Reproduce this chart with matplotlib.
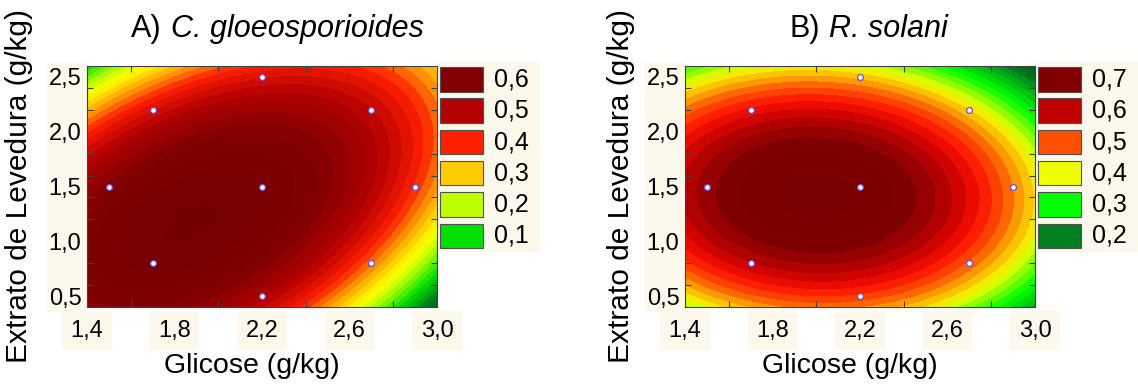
import numpy as np
import matplotlib
matplotlib.use("Agg")
import matplotlib.pyplot as plt
from matplotlib.colors import LinearSegmentedColormap, Normalize
from matplotlib.patches import Rectangle

plt.rcParams['font.family'] = ['Liberation Sans', 'DejaVu Sans']

W, H = 1138, 384
CREAM = '#fcf8ec'

# central composite design points
glicose_pts = [1.5, 1.7, 1.7, 2.2, 2.2, 2.2, 2.7, 2.7, 2.9]
extrato_pts = [1.5, 0.8, 2.2, 0.5, 1.5, 2.5, 0.8, 2.2, 1.5]

# fitted quadratic models, centred on glicose=2.2, extrato=1.5
# order: b0, b_x, b_y, b_xx, b_yy, b_xy
coef_a = [0.652, -0.1375, -0.0333, -0.333, -0.175, 0.24]
coef_b = [0.697, -0.1176, -0.0392, -0.29, -0.22, -0.02]

# legend entries
legend_vals_a = ['0,6', '0,5', '0,4', '0,3', '0,2', '0,1']
legend_cols_a = ['#800000', '#b40000', '#ff2000', '#ffcc00', '#c0ff00', '#00e000']
legend_vals_b = ['0,7', '0,6', '0,5', '0,4', '0,3', '0,2']
legend_cols_b = ['#800000', '#c00000', '#ff5000', '#f0ff00', '#00ff00', '#008020']

# colour ramps (value, colour)
ramp_a = [(-0.1, '#005a1e'), (0.0, '#007a20'), (0.1, '#00e000'), (0.2, '#c0ff00'),
          (0.25, '#ffff00'), (0.3, '#ffc800'), (0.35, '#ff8000'), (0.4, '#ff2000'),
          (0.5, '#b40000'), (0.6, '#800000'), (0.7, '#740000')]
ramp_b = [(0.0, '#004a18'), (0.15, '#007020'), (0.3, '#00ff00'), (0.4, '#f0ff00'),
          (0.45, '#ffb000'), (0.5, '#ff5000'), (0.55, '#ff1000'), (0.6, '#c00000'),
          (0.66, '#800000'), (0.75, '#740000')]

x_ticks = [1.4, 1.8, 2.2, 2.6, 3.0]
x_labels = ['1,4', '1,8', '2,2', '2,6', '3,0']
y_ticks = [0.5, 1.0, 1.5, 2.0, 2.5]
y_labels = ['0,5', '1,0', '1,5', '2,0', '2,5']


def fx(x):
    return x / W


def fy(y):
    return 1 - y / H


def make_cmap(ramp):
    lo, hi = ramp[0][0], ramp[-1][0]
    stops = [((v - lo) / (hi - lo), c) for v, c in ramp]
    cmap = LinearSegmentedColormap.from_list('rsm', stops)
    return cmap, Normalize(lo, hi)


def surface(coef, X, Y):
    u = X - 2.2
    v = Y - 1.5
    b0, b1, b2, b11, b22, b12 = coef
    return b0 + b1 * u + b2 * v + b11 * u ** 2 + b22 * v ** 2 + b12 * u * v


def panel(fig, box, coef, ramp, leg_vals, leg_cols, title_a, title_b, tsplit, ylab_x):
    x0, y0, x1, y1 = box
    ax = fig.add_axes([fx(x0), fy(y1), fx(x1 - x0), (y1 - y0) / H])

    xs = np.linspace(1.4, 3.0, 300)
    ys = np.linspace(0.4, 2.6, 300)
    X, Y = np.meshgrid(xs, ys)
    Z = surface(coef, X, Y)
    cmap, norm = make_cmap(ramp)
    levels = np.arange(-0.3, 0.9, 0.025)
    ax.contourf(X, Y, Z, levels=levels, cmap=cmap, norm=norm, extend='both')

    ax.plot(glicose_pts, extrato_pts, 'o', ms=4.2, mfc='white', mec='#6a4fd0', mew=0.9)

    ax.set_xlim(1.4, 3.0)
    ax.set_ylim(0.4, 2.6)
    ax.set_xticks(x_ticks)
    ax.set_xticklabels(x_labels)
    ax.set_yticks(y_ticks)
    ax.set_yticklabels(y_labels)
    ax.set_xticks([1.6, 1.8, 2.0, 2.2, 2.4, 2.6, 2.8], minor=True)
    ax.set_yticks([0.6, 0.8, 1.0, 1.2, 1.4, 1.6, 1.8, 2.0, 2.2, 2.4], minor=True)
    ax.tick_params(axis='x', which='major', length=0, labelsize=17, pad=9)
    ax.tick_params(axis='y', which='major', length=0, labelsize=17, pad=4)
    ax.tick_params(which='minor', direction='in', length=4, width=0.8,
                   color='#404040', top=True, right=True)
    for s in ax.spines.values():
        s.set_color('#404040')
        s.set_linewidth(0.8)
    for lbl in ax.get_xticklabels():
        lbl.set_bbox(dict(boxstyle='square,pad=0.35', fc=CREAM, ec='none'))

    # cream column behind y tick labels
    fig.add_artist(Rectangle((fx(x0 - 40), fy(312)), 40 / W, 249 / H,
                             transform=fig.transFigure, fc=CREAM, ec='none', zorder=-1))
    # cream panel behind legend
    fig.add_artist(Rectangle((fx(x1), fy(252)), 103 / W, 190 / H,
                             transform=fig.transFigure, fc=CREAM, ec='none', zorder=-1))

    # legend boxes
    for i, (lab, col) in enumerate(zip(leg_vals, leg_cols)):
        top = 67 + i * 31.3
        fig.add_artist(Rectangle((fx(x1 + 3), fy(top + 24.5)), 42.5 / W, 24.5 / H,
                                 transform=fig.transFigure, fc=col, ec='#505050', lw=0.8))
        fig.text(fx(x1 + 57), fy(top + 12.5), lab, fontsize=18, va='center', ha='left')

    # titles and axis labels
    fig.text(fx(tsplit), fy(37), title_a, fontsize=22, ha='right', va='baseline')
    fig.text(fx(tsplit + 9), fy(37), title_b, fontsize=22, ha='left', va='baseline',
             style='italic')
    fig.text(fx((x0 + x1) / 2 - 10), fy(373), 'Glicose (g/kg)', fontsize=20.5,
             ha='center', va='baseline')
    fig.text(fx(ylab_x), fy(186), 'Extrato de Levedura (g/kg)', fontsize=21.5,
             rotation=90, ha='center', va='center')
    return ax


fig = plt.figure(figsize=(W / 100, H / 100), dpi=100)
panel(fig, (87, 66, 437, 307), coef_a, ramp_a, legend_vals_a, legend_cols_a,
      'A)', 'C. gloeosporioides', 162, 19)
panel(fig, (685, 66, 1035, 307), coef_b, ramp_b, legend_vals_b, legend_cols_b,
      'B)', 'R. solani', 820, 621)
fig.savefig('out.png', dpi=100)
